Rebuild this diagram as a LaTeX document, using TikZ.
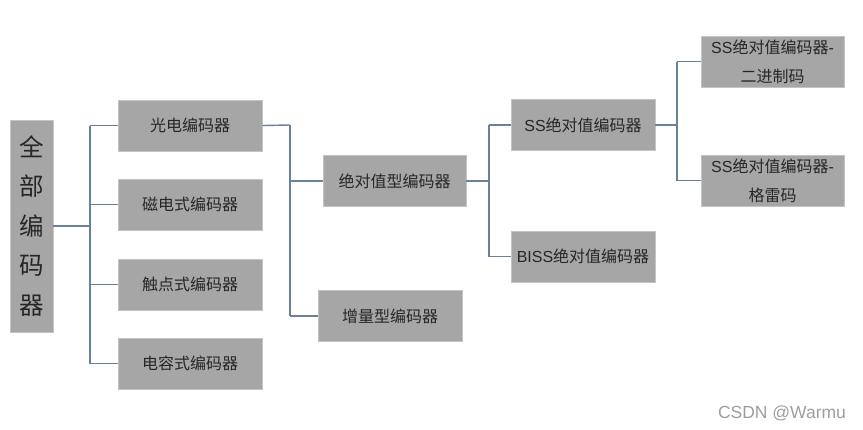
\documentclass[tikz,border=0pt]{standalone}
\usepackage{fontspec}
\setmainfont{Liberation Sans}
\newfontfamily\cjk{Noto Sans CJK SC}
\newcommand{\lat}[1]{{\rmfamily #1}}
\begin{document}
\begin{tikzpicture}[x=1pt,y=-1pt,
  box/.style={fill=boxgrey,draw=edgegrey,line width=0.8pt,inner sep=0pt,
    minimum width=144,minimum height=51,align=center,
    font=\cjk\fontsize{16}{29}\selectfont,text=black!85},
  conn/.style={draw=linecol,line width=1.4pt}]
\definecolor{boxgrey}{HTML}{A6A6A6}
\definecolor{edgegrey}{HTML}{C4C4C4}
\definecolor{linecol}{HTML}{6A819B}
\useasboundingbox (0,0) rectangle (863,429);
\fill[white] (0,0) rectangle (863,429);
% nodes
\node[box,minimum width=43,minimum height=212,font=\cjk\fontsize{24.5}{39.5}\selectfont] (root) at (31.5,226) {全\\部\\编\\码\\器};
\node[box] (gd) at (190,125.5) {光电编码器};
\node[box] (cd) at (190,204.5) {磁电式编码器};
\node[box] (cdd) at (190,284.5) {触点式编码器};
\node[box] (dr) at (190,363.5) {电容式编码器};
\node[box,minimum width=143] (jd) at (394.5,181) {绝对值型编码器};
\node[box] (zl) at (390,316) {增量型编码器};
\node[box] (ss) at (583,125) {\lat{SS}绝对值编码器};
\node[box] (biss) at (583,256.5) {\lat{BISS}绝对值编码器};
\node[box,minimum width=143] (ssb) at (772.5,61.5) {\lat{SS}绝对值编码器\lat{-}\\二进制码};
\node[box,minimum width=143] (ssg) at (772.5,180.5) {\lat{SS}绝对值编码器\lat{-}\\格雷码};
\node[text=black!38,font=\fontsize{17.5}{20}\selectfont] (wm) at (782,413) {CSDN @Warmu};
% junctions
\coordinate (j1) at (90,226);
\coordinate (j2) at (290,125);
\coordinate (j3) at (489,181);
\coordinate (j4) at (677,125);
% connectors
\draw[conn] (root.east |- j1) -- (j1);
\draw[conn] (j1 |- gd.west) -- (j1 |- dr.west);
\foreach \n in {gd,cd,cdd,dr} \draw[conn] (j1 |- \n.west) -- (\n.west);
\draw[conn] (gd.east) -- (j2);
\draw[conn] (j2) -- (j2 |- zl.west);
\foreach \n in {jd,zl} \draw[conn] (j2 |- \n.west) -- (\n.west);
\draw[conn] (jd.east) -- (j3);
\draw[conn] (j3 |- ss.west) -- (j3 |- biss.west);
\foreach \n in {ss,biss} \draw[conn] (j3 |- \n.west) -- (\n.west);
\draw[conn] (ss.east) -- (j4);
\draw[conn] (j4 |- ssb.west) -- (j4 |- ssg.west);
\foreach \n in {ssb,ssg} \draw[conn] (j4 |- \n.west) -- (\n.west);
\end{tikzpicture}
\end{document}
